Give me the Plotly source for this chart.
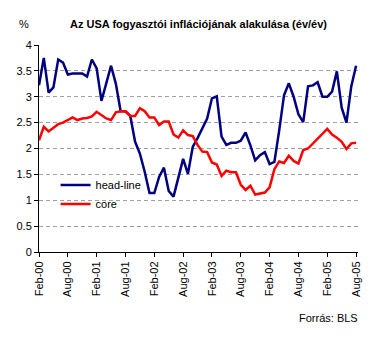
import pandas as pd
import plotly.graph_objects as go

# Monthly observations, Feb 2000 .. Aug 2005 (year-on-year change, %)
months = pd.date_range("2000-02-01", "2005-08-01", freq="MS").strftime("%b-%y").tolist()

headline = [
    3.22, 3.75, 3.08, 3.18, 3.72, 3.66, 3.43, 3.45, 3.45, 3.45, 3.39,
    3.72, 3.55, 2.92, 3.26, 3.60, 3.25, 2.72, 2.72, 2.63, 2.13, 1.90, 1.55,
    1.14, 1.14, 1.45, 1.63, 1.18, 1.07, 1.46, 1.80, 1.51, 2.03, 2.20, 2.38,
    2.58, 2.97, 3.01, 2.23, 2.07, 2.11, 2.11, 2.15, 2.31, 2.06, 1.77, 1.87,
    1.93, 1.70, 1.74, 2.35, 3.03, 3.26, 3.00, 2.66, 2.51, 3.20, 3.22, 3.28,
    3.00, 3.00, 3.10, 3.49, 2.79, 2.50, 3.20, 3.60,
]

core = [
    2.16, 2.42, 2.33, 2.40, 2.47, 2.50, 2.55, 2.60, 2.55, 2.58, 2.59,
    2.62, 2.71, 2.64, 2.58, 2.55, 2.70, 2.72, 2.72, 2.63, 2.63, 2.78, 2.72,
    2.60, 2.60, 2.45, 2.52, 2.52, 2.27, 2.21, 2.35, 2.26, 2.24, 2.07, 1.94,
    1.93, 1.73, 1.69, 1.47, 1.57, 1.54, 1.54, 1.30, 1.20, 1.28, 1.11, 1.13,
    1.15, 1.25, 1.60, 1.75, 1.72, 1.86, 1.76, 1.71, 1.97, 2.00, 2.10, 2.20,
    2.30, 2.38, 2.27, 2.21, 2.13, 1.99, 2.10, 2.11,
]

tick_labels = ["Feb-00", "Aug-00", "Feb-01", "Aug-01", "Feb-02", "Aug-02",
               "Feb-03", "Aug-03", "Feb-04", "Aug-04", "Feb-05", "Aug-05"]
y_ticks = [0, 0.5, 1, 1.5, 2, 2.5, 3, 3.5, 4]

assert len(months) == len(headline) == len(core)

idx = list(range(len(months)))
tick_pos = [months.index(t) for t in tick_labels]

FONT = "Liberation Sans, Arial, sans-serif"

fig = go.Figure()
fig.add_trace(go.Scatter(x=idx, y=headline, mode="lines", name="head-line",
                         line=dict(color="#000080", width=2.5),
                         customdata=months, hovertemplate="%{customdata}: %{y}<extra></extra>"))
fig.add_trace(go.Scatter(x=idx, y=core, mode="lines", name="core",
                         line=dict(color="#ff0000", width=2.5),
                         customdata=months, hovertemplate="%{customdata}: %{y}<extra></extra>"))

fig.update_layout(
    width=385, height=341,
    margin=dict(l=39, r=27, t=45, b=89),
    paper_bgcolor="white", plot_bgcolor="white",
    font=dict(family=FONT, size=11, color="black"),
    title=dict(text="<b>Az USA fogyasztói inflációjának alakulása (év/év)</b>",
               x=0.5, xref="paper", y=1 - 24 / 341, yanchor="middle",
               font=dict(size=11, family=FONT)),
    showlegend=True,
    legend=dict(x=0.052, y=0.394, xanchor="left", yanchor="top",
                bgcolor="rgba(0,0,0,0)", itemwidth=30,
                font=dict(size=11, family=FONT)),
    annotations=[
        dict(text="%", xref="paper", yref="paper", x=(24 - 39) / 319, y=(252 - 24) / 207,
             xanchor="center", yanchor="middle", showarrow=False, font=dict(size=11)),
        dict(text="Forrás: BLS", xref="paper", yref="paper", x=(360 - 39) / 319, y=-(318 - 252) / 207,
             xanchor="right", yanchor="middle", showarrow=False, font=dict(size=11)),
    ],
)

fig.update_xaxes(
    range=[0, 66.4], tickmode="array", tickvals=tick_pos, ticktext=tick_labels,
    tickangle=-90, ticks="outside", ticklen=4, tickcolor="black",
    showline=True, linecolor="black", linewidth=1,
    showgrid=False, zeroline=False, fixedrange=True,
)
fig.update_yaxes(
    range=[0, 4], tickmode="array", tickvals=y_ticks,
    ticktext=[f"{v:g}" for v in y_ticks],
    ticks="outside", ticklen=4, tickcolor="black",
    showline=True, linecolor="black", linewidth=1,
    showgrid=True, gridcolor="#a0a0a0", griddash="4px,3px", gridwidth=1,
    zeroline=False, fixedrange=True,
)

fig.write_html("out.html")
